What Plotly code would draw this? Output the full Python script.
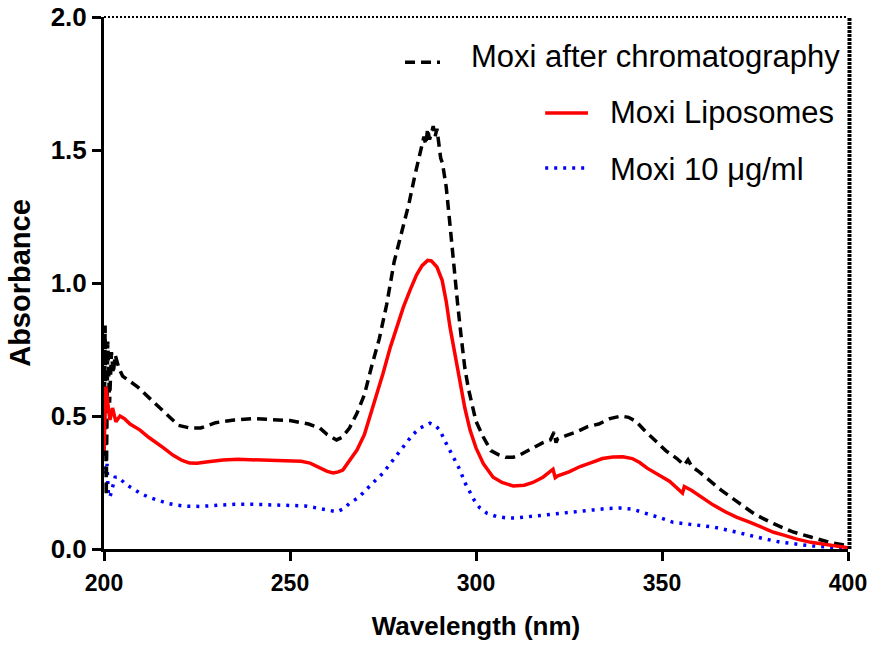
import plotly.graph_objects as go

# ---------------- data ----------------
series_names = ["Moxi after chromatography", "Moxi Liposomes", "Moxi 10 \u03bcg/ml"]

wl_chrom = [200, 200.3, 200.6, 201, 201.5, 202, 202.5, 203, 204, 205, 207, 209, 212, 215, 218, 220,
            223, 226, 230, 235, 240, 245, 250, 255, 258, 260, 262.5, 264, 266, 268, 270, 272, 274,
            276, 278, 280, 282, 283.5, 285, 286, 286.5, 287, 287.5, 288, 288.5, 289, 289.5, 290,
            290.5, 291, 292, 293, 294, 295, 296, 297, 298, 300, 302, 304, 306, 308, 310, 312, 314,
            316, 318, 320, 321, 321.5, 322, 324, 327, 330, 333, 336, 339, 341, 343, 345, 348, 351,
            354, 356, 357, 358, 360, 363, 366, 370, 375, 380, 385, 390, 395, 400]
abs_chrom = [0.35, 0.84, 0.20, 0.78, 0.55, 0.74, 0.66, 0.73, 0.68, 0.65, 0.63, 0.61, 0.57, 0.53, 0.49, 0.465,
             0.455, 0.455, 0.475, 0.485, 0.49, 0.487, 0.483, 0.47, 0.455, 0.43, 0.41, 0.42, 0.455, 0.51, 0.58, 0.69, 0.79,
             0.92, 1.08, 1.19, 1.30, 1.40, 1.49, 1.55, 1.52, 1.58, 1.54, 1.56, 1.59, 1.55, 1.58, 1.52,
             1.47, 1.45, 1.36, 1.22, 1.06, 0.93, 0.80, 0.68, 0.60, 0.48, 0.42, 0.37, 0.355, 0.345, 0.345, 0.355, 0.37,
             0.385, 0.40, 0.41, 0.44, 0.40, 0.415, 0.425, 0.44, 0.46, 0.47, 0.49, 0.50, 0.495, 0.48, 0.45, 0.41, 0.37,
             0.34, 0.315, 0.335, 0.31, 0.29, 0.255, 0.22, 0.18, 0.13, 0.095, 0.065, 0.045, 0.025, 0.012]

wl_lipo = [200, 200.5, 201, 201.6, 202.3, 203.2, 204.3, 205.5, 207, 209.7, 212, 214.2, 216, 218.5, 221,
           223, 225, 228, 232, 236, 240, 245, 250, 253, 255.4, 258, 260, 261.6, 263, 264.2, 266, 268,
           270, 271.5, 273, 275, 277, 278.8, 280.5, 282.3, 284, 285.5, 287, 288, 289.5, 290.9, 292,
           293, 294.5, 295.7, 297, 298.4, 300, 302, 304.6, 307, 310, 313, 315.3, 318, 320.7, 321.3,
           322, 325, 328, 331, 334, 336.8, 339.5, 342, 344, 346, 349, 352, 355.5, 356, 358, 361,
           363.7, 367, 370, 373.7, 377, 380, 382.5, 386, 390, 394.4, 400]
abs_lipo = [0.37, 0.61, 0.55, 0.485, 0.53, 0.478, 0.50, 0.49, 0.47, 0.447, 0.42, 0.40, 0.38, 0.353, 0.333,
            0.323, 0.322, 0.328, 0.335, 0.337, 0.335, 0.334, 0.332, 0.33, 0.323, 0.305, 0.292, 0.286, 0.29, 0.297, 0.33, 0.372,
            0.43, 0.496, 0.57, 0.66, 0.76, 0.835, 0.91, 0.974, 1.03, 1.065, 1.085, 1.083, 1.06, 1.01, 0.93,
            0.835, 0.72, 0.624, 0.53, 0.447, 0.38, 0.32, 0.27, 0.25, 0.237, 0.24, 0.25, 0.27, 0.30, 0.268,
            0.275, 0.29, 0.31, 0.325, 0.34, 0.346, 0.347, 0.34, 0.325, 0.304, 0.28, 0.255, 0.21, 0.235, 0.22, 0.19,
            0.166, 0.14, 0.12, 0.10, 0.08, 0.063, 0.053, 0.038, 0.025, 0.015, 0.005]

wl_free = [200, 200.4, 200.8, 201.2, 201.6, 202, 202.5, 203, 203.8, 205, 206.2, 208, 209.7, 212, 214.2,
           217, 219.6, 222, 225.8, 230, 235, 240, 245, 250, 254, 257.3, 260, 262.6, 264.5, 266, 268,
           269.6, 272, 275, 278, 280.4, 283, 285, 287.6, 289, 290.3, 291.5, 293, 294.5, 295.7, 297,
           298.4, 299.5, 301, 303, 305.5, 308.3, 311, 313.7, 317, 320, 322.6, 326, 329, 331.5, 335,
           338.7, 342, 346, 350, 353, 357, 360, 363.7, 368, 372.8, 377, 381.7, 386, 390, 395, 400]
abs_free = [0.31, 0.28, 0.32, 0.20, 0.195, 0.22, 0.25, 0.27, 0.27, 0.255, 0.24, 0.225, 0.21, 0.195, 0.184,
            0.172, 0.165, 0.161, 0.16, 0.165, 0.168, 0.168, 0.167, 0.165, 0.162, 0.154, 0.146, 0.14, 0.152, 0.172, 0.19,
            0.21, 0.245, 0.285, 0.34, 0.385, 0.43, 0.455, 0.473, 0.465, 0.447, 0.41, 0.372, 0.33, 0.297, 0.25,
            0.21, 0.184, 0.155, 0.134, 0.122, 0.117, 0.117, 0.12, 0.125, 0.13, 0.134, 0.138, 0.143, 0.147, 0.152,
            0.154, 0.15, 0.134, 0.115, 0.10, 0.093, 0.09, 0.083, 0.07, 0.053, 0.04, 0.026, 0.018, 0.012, 0.007, 0.004]

x_ticks = [200, 250, 300, 350, 400]
y_ticks = [0.0, 0.5, 1.0, 1.5, 2.0]

# ---------------- styles ----------------
colors = ["black", "#ff0000", "#0000ff"]
dashes = ["10px,6px", "solid", "3px,6px"]
widths = [3.5, 3.5, 3.5]

fig = go.Figure()
for wl, ab, name, c, d, w in zip([wl_chrom, wl_lipo, wl_free], [abs_chrom, abs_lipo, abs_free],
                                 series_names, colors, dashes, widths):
    fig.add_trace(go.Scatter(x=wl, y=ab, mode="lines", name=name,
                             line=dict(color=c, dash=d, width=w), showlegend=False))

# order of drawing: blue at bottom, then black, then red on top
fig.data = (fig.data[2], fig.data[0], fig.data[1])

bold = dict(family="Liberation Sans, Arial, sans-serif", color="black", weight="bold")

fig.update_layout(
    width=875, height=646,
    margin=dict(l=104, r=27, t=17, b=97, autoexpand=False),
    paper_bgcolor="white", plot_bgcolor="white",
    xaxis=dict(range=[200, 400], tickvals=x_ticks, ticktext=[str(v) for v in x_ticks],
               automargin=False,
               showgrid=False, zeroline=False, showline=True, linecolor="black", linewidth=3,
               ticks="outside", ticklen=9, tickwidth=3, tickcolor="black",
               ticklabelstandoff=2,
               tickfont=dict(size=23, **bold),
               title=dict(text="Wavelength (nm)", font=dict(size=26, **bold), standoff=23)),
    yaxis=dict(range=[0, 2.0], tickvals=y_ticks, ticktext=["%.1f" % v for v in y_ticks],
               automargin=False,
               showgrid=False, zeroline=False, showline=True, linecolor="black", linewidth=3,
               ticks="outside", ticklen=9, tickwidth=3, tickcolor="black",
               tickfont=dict(size=26, **bold),
               title=dict(text="Absorbance", font=dict(size=29, **bold), standoff=12)),
)

# top (thin dotted) and right (thick dotted) frame
fig.add_shape(type="line", xref="paper", yref="paper", x0=0, x1=1, y0=1, y1=1,
              line=dict(color="black", width=2, dash="2px,2px"))
fig.add_shape(type="line", xref="paper", yref="paper", x0=1.002, x1=1.002, y0=0, y1=1,
              line=dict(color="black", width=4, dash="3px,1px"))

# legend (glyph + text)
leg_y = [0.915, 0.8195, 0.716]
leg_text_y = [0.926, 0.8214, 0.714]
leg_x0 = [0.4046, 0.593, 0.593]
leg_x1 = [0.4516, 0.6505, 0.6505]
leg_tx = [0.490, 0.677, 0.677]
for i in range(3):
    fig.add_shape(type="line", xref="paper", yref="paper", x0=leg_x0[i], x1=leg_x1[i],
                  y0=leg_y[i], y1=leg_y[i],
                  line=dict(color=colors[i], width=widths[i], dash=dashes[i]))
    fig.add_annotation(xref="paper", yref="paper", x=leg_tx[i], y=leg_text_y[i],
                       xanchor="left", yanchor="middle", showarrow=False, text=series_names[i],
                       font=dict(family="Liberation Sans, Arial, sans-serif", size=31, color="black"))

fig.write_html("out.html")
